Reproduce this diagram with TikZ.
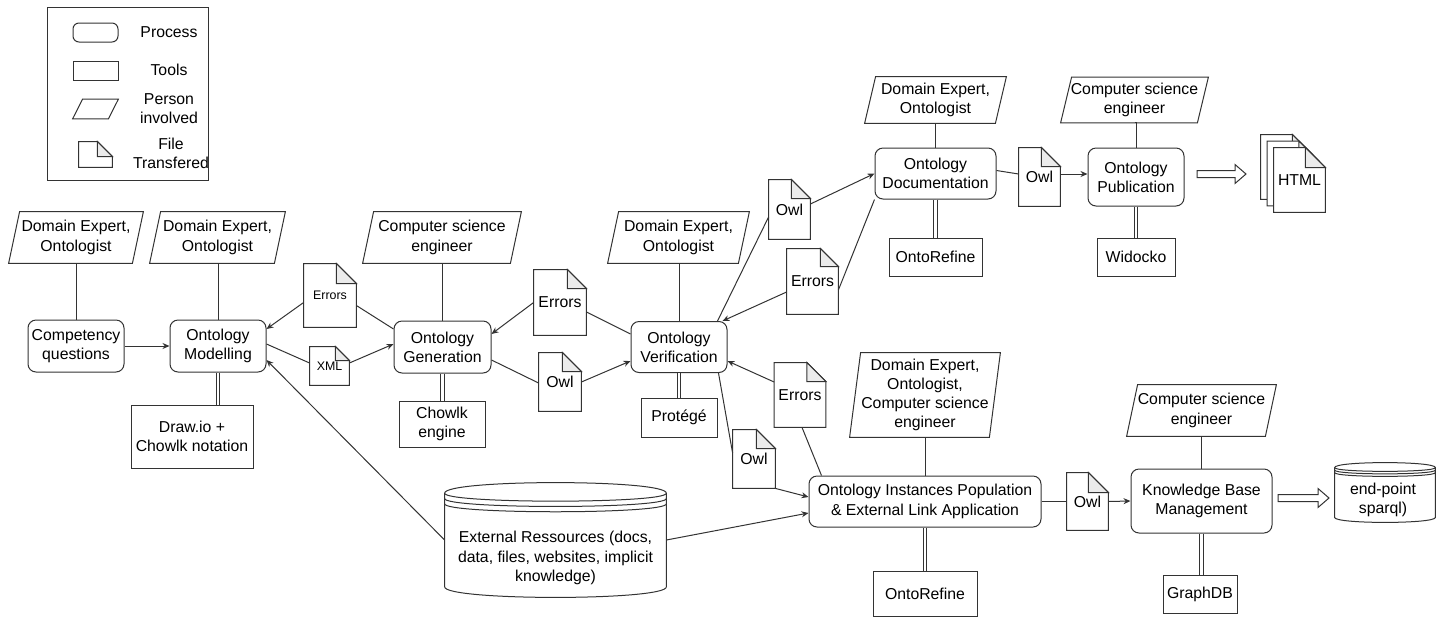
\documentclass[tikz,border=0pt]{standalone}
\usepackage{fontspec}
\setmainfont{Liberation Sans}
\usetikzlibrary{arrows.meta,calc,backgrounds}

\definecolor{linec}{HTML}{333333}
\definecolor{foldgray}{HTML}{EBEBEB}

\newcommand{\hollowarrow}[2]{%
  \draw[link,fill=white] ($(#1)+(0,-3.5)$) -- ($(#2)+(-11,-3.5)$) -- ($(#2)+(-11,-9.5)$)
    -- (#2) -- ($(#2)+(-11,9.5)$) -- ($(#2)+(-11,3.5)$) -- ($(#1)+(0,3.5)$) -- cycle;}

\begin{document}
\begin{tikzpicture}
[x=0.5pt,y=-0.5pt,%
  txt/.style={font=\fontsize{7.9}{9.6}\selectfont,align=center,inner sep=0pt},%
  small/.style={txt,font=\fontsize{6.2}{7.4}\selectfont},%
  process/.style={txt,draw=linec,line width=0.5pt,rounded corners=4pt},%
  tool/.style={txt,draw=linec,line width=0.5pt},%
  person/.style={txt},%
  file/.style={txt},%
  link/.style={draw=linec,line width=0.5pt},%
  flow/.style={link,-{Stealth[length=3.5pt,width=3pt]}},%
  uses/.style={link,double,double distance=1.2pt}]
\useasboundingbox (0,0) rectangle (1437,617);

% legend
\node[tool,minimum width=80.5pt,minimum height=86.5pt] (legend) at (127.5,93.5) {};
\node[process,rounded corners=3pt,minimum width=22.5pt,minimum height=9.5pt] (lgproc) at (95.5,32.5) {};
\node[tool,minimum width=22.5pt,minimum height=9.5pt] (lgtool) at (95.5,70.5) {};
\node[person,minimum width=22.5pt,minimum height=9.5pt] (lgperson) at (95.5,109) {};
\node[file,minimum width=16.5pt,minimum height=12.5pt] (lgfile) at (95.5,154.5) {};
\node[txt] (lgproctxt) at (169,32) {Process};
\node[txt] (lgtooltxt) at (169,70) {Tools};
\node[txt] (lgpersontxt) at (169,109) {Person\\involved};
\node[txt] (lgfiletxt) at (171,153) {File\\Transfered};

% modelling
\node[person,minimum width=67pt,minimum height=25.5pt] (pa) at (76,237.5) {Domain Expert,\\Ontologist};
\node[process,minimum width=48pt,minimum height=26pt] (cq) at (76,346) {Competency\\questions};
\node[person,minimum width=67.5pt,minimum height=25.5pt] (pb) at (217.5,237.5) {Domain Expert,\\Ontologist};
\node[process,minimum width=48pt,minimum height=26pt] (om) at (218,346) {Ontology\\Modelling};
\node[tool,minimum width=61pt,minimum height=31.5pt] (drawio) at (192,436.5) {Draw.io +\\Chowlk notation};
\node[file,small,minimum width=26pt,minimum height=31.5pt] (errA) at (330,295.5) {Errors};
\node[file,small,minimum width=19.5pt,minimum height=19pt] (xml) at (329.5,366) {XML};

% generation
\node[person,minimum width=79pt,minimum height=25.5pt] (pc) at (442,237.5) {Computer science\\engineer};
\node[process,minimum width=48.5pt,minimum height=26pt] (og) at (442.5,347) {Ontology\\Generation};
\node[tool,minimum width=43pt,minimum height=23pt] (chowlk) at (442,424) {Chowlk\\engine};
\node[file,minimum width=26pt,minimum height=32.5pt] (errB) at (560,302.5) {Errors};
\node[file,minimum width=21pt,minimum height=29pt] (owlA) at (560,382) {Owl};

% verification
\node[person,minimum width=70.5pt,minimum height=25.5pt] (pd) at (678.5,237.5) {Domain Expert,\\Ontologist};
\node[process,minimum width=48pt,minimum height=25.5pt] (ov) at (679,347) {Ontology\\Verification};
\node[tool,minimum width=38pt,minimum height=19.5pt] (protege) at (679,417.5) {Protégé};
\node[file,minimum width=20.5pt,minimum height=29.5pt] (owlB) at (789.5,209.5) {Owl};
\node[file,minimum width=25.5pt,minimum height=32.5pt] (errC) at (812.5,281.5) {Errors};
\node[file,minimum width=25.5pt,minimum height=32pt] (errD) at (800,395) {Errors};
\node[file,minimum width=21pt,minimum height=29pt] (owlD) at (754,459) {Owl};

% documentation and publication
\node[person,minimum width=70.5pt,minimum height=23pt] (pe) at (935.5,100) {Domain Expert,\\Ontologist};
\node[process,minimum width=60.5pt,minimum height=25.5pt] (od) at (935.5,173.5) {Ontology\\Documentation};
\node[tool,minimum width=46.5pt,minimum height=19pt] (ontoA) at (935.5,257) {OntoRefine};
\node[file,minimum width=20.5pt,minimum height=29pt] (owlC) at (1039.5,177) {Owl};
\node[person,minimum width=73.5pt,minimum height=22.5pt] (pf) at (1134.5,100) {Computer science\\engineer};
\node[process,minimum width=48pt,minimum height=29pt] (op) at (1136,177) {Ontology\\Publication};
\node[tool,minimum width=39pt,minimum height=19pt] (widocko) at (1136,257) {Widocko};
\node[file,minimum width=25.5pt,minimum height=32pt] (htmlb) at (1286.5,167) {};
\node[file,minimum width=25.5pt,minimum height=32pt] (htmlm) at (1293,173.5) {};
\node[file,minimum width=25.5pt,minimum height=32pt] (html) at (1299.5,180) {HTML};

% population and knowledge base
\node[person,minimum width=75pt,minimum height=42pt] (pg) at (925,395) {Domain Expert,\\Ontologist,\\Computer science\\engineer};
\node[process,minimum width=116pt,minimum height=25.5pt] (opop) at (925,501.5) {Ontology Instances Population\\\& External Link Application};
\node[tool,minimum width=52pt,minimum height=22.5pt] (ontoB) at (925,593.5) {OntoRefine};
\node[txt,minimum width=110.5pt,minimum height=57pt] (cyl) at (555.5,540) {};
\node[txt] (cyltxt) at (555.5,558) {External Ressources (docs,\\data, files, websites, implicit\\knowledge)};
\node[file,minimum width=20.5pt,minimum height=28.5pt] (owlE) at (1087.5,501.5) {Owl};
\node[person,minimum width=74.5pt,minimum height=25.5pt] (ph) at (1201.5,410.5) {Computer science\\engineer};
\node[process,minimum width=70.5pt,minimum height=32pt] (kb) at (1201.5,501) {Knowledge Base\\Management};
\node[tool,minimum width=37pt,minimum height=19pt] (graphdb) at (1200,594) {GraphDB};
\node[txt,minimum width=50pt,minimum height=29.5pt] (ep) at (1385,492.5) {};
\node[txt] (eptxt) at (1383,500) {end-point\\sparql)};

\coordinate (a1s) at (1197,174);
\coordinate (a1e) at (1246,174);
\coordinate (a2s) at (1278,498);
\coordinate (a2e) at (1329,498);

% outlines
\begin{pgfonlayer}{background}
  \foreach \n/\s in {lgperson/5pt,pa/5.5pt,pb/5.5pt,pc/5.5pt,pd/5.5pt,pe/5.5pt,pf/5.5pt,pg/5.5pt,ph/5.5pt}
    \draw[link] ([xshift=\s]\n.north west) -- (\n.north east) -- ([xshift=-\s]\n.south east) -- (\n.south west) -- cycle;
  \foreach \n/\f in {lgfile/7.5pt,errA/10pt,xml/7pt,errB/9.5pt,owlA/9.5pt,owlB/9.5pt,errC/9pt,owlC/9.5pt,errD/9.5pt,owlD/9.5pt,owlE/10pt,htmlb/10pt,htmlm/10pt,html/10pt} {
    \draw[link,fill=white] (\n.south west) -- (\n.north west) -- ([xshift=-\f]\n.north east)
      -- ([yshift=-\f]\n.north east) -- (\n.south east) -- cycle;
    \draw[link,fill=foldgray] ([xshift=-\f]\n.north east) -- ([xshift=-\f,yshift=-\f]\n.north east)
      -- ([yshift=-\f]\n.north east) -- cycle;
  }
  \foreach \n/\d in {cyl/10.6,ep/5} {
    \draw[link,fill=white] ($(\n.north west)+(0,\d)$) .. controls ($(\n.north west)+(0,-\d/3)$) and ($(\n.north east)+(0,-\d/3)$) .. ($(\n.north east)+(0,\d)$)
      -- ($(\n.south east)+(0,-\d)$) .. controls ($(\n.south east)+(0,\d/3)$) and ($(\n.south west)+(0,\d/3)$) .. ($(\n.south west)+(0,-\d)$) -- cycle;
    \foreach \k in {1,1.5,2}
      \draw[link] ($(\n.north west)+(0,\k*\d)$) .. controls ($(\n.north west)+(0,\k*\d+\d)$) and ($(\n.north east)+(0,\k*\d+\d)$) .. ($(\n.north east)+(0,\k*\d)$);
  }
\end{pgfonlayer}

% people
\foreach \p/\q in {pa/cq,pb/om,pc/og,pd/ov,pe/od,pf/op,pg/opop,ph/kb}
  \draw[link] (\p.south) -- (\p.south -| \q.north) -- (\q.north);
% tools
\foreach \q/\t in {om/drawio,og/chowlk,ov/protege,od/ontoA,op/widocko,opop/ontoB,kb/graphdb}
  \draw[uses] (\q.south) -- (\q.south |- \t.north);

% files
\draw[flow] (cq.east) -- (om.west);
\draw[link] ([yshift=9pt]og.west) -- ([yshift=-5pt]errA.east);
\draw[flow] ([yshift=-3.5pt]errA.west) -- ([yshift=8.5pt]om.east);
\draw[link] ([yshift=1pt]om.east) -- ([yshift=1.5pt]xml.west);
\draw[flow] ([yshift=1.5pt]xml.east) -- ([yshift=1.5pt]og.west);
\draw[link] ([yshift=6.5pt]ov.west) -- ([yshift=-4.75pt]errB.east);
\draw[flow] (errB.west) -- ([yshift=6.5pt]og.east);
\draw[link] ([yshift=-6.5pt]og.east) -- ([yshift=-0.5pt]owlA.west);
\draw[flow] (owlA.east) -- ([yshift=-7pt]ov.west);
\draw[link] ([xshift=-5pt]ov.north east) -- ([yshift=-3.75pt]owlB.west);
\draw[flow] ([yshift=2.75pt]owlB.east) -- (od.west);
\draw[link] (od.south west) -- ([yshift=-4.25pt]errC.east);
\draw[flow] ([yshift=-5.25pt]errC.west) -- ([xshift=-2.5pt]ov.north east);
\draw[link] ([yshift=1.5pt]od.east) -- ([yshift=1.5pt]owlC.west);
\draw[flow] ([yshift=1.5pt]owlC.east) -- ([yshift=1.5pt]op.west);
\draw[link] ([xshift=-4.5pt]ov.south east) -- ([yshift=3pt]owlD.west);
\draw[flow] (owlD.south east) -- ([yshift=2.25pt]opop.west);
\draw[link] ([xshift=6.5pt]opop.north west) -- ([xshift=1pt]errD.south);
\draw[flow] ([yshift=6.5pt]errD.west) -- ([yshift=-7pt]ov.east);
\draw[flow] (cyl.west) -- ([yshift=-7pt]om.east);
\draw[flow] (cyl.east) -- ([yshift=-5.75pt]opop.west);
\draw[link] (opop.east) -- (owlE.west);
\draw[flow] (owlE.east) -- (kb.west);

\hollowarrow{a1s}{a1e}
\hollowarrow{a2s}{a2e}
\end{tikzpicture}
\end{document}
